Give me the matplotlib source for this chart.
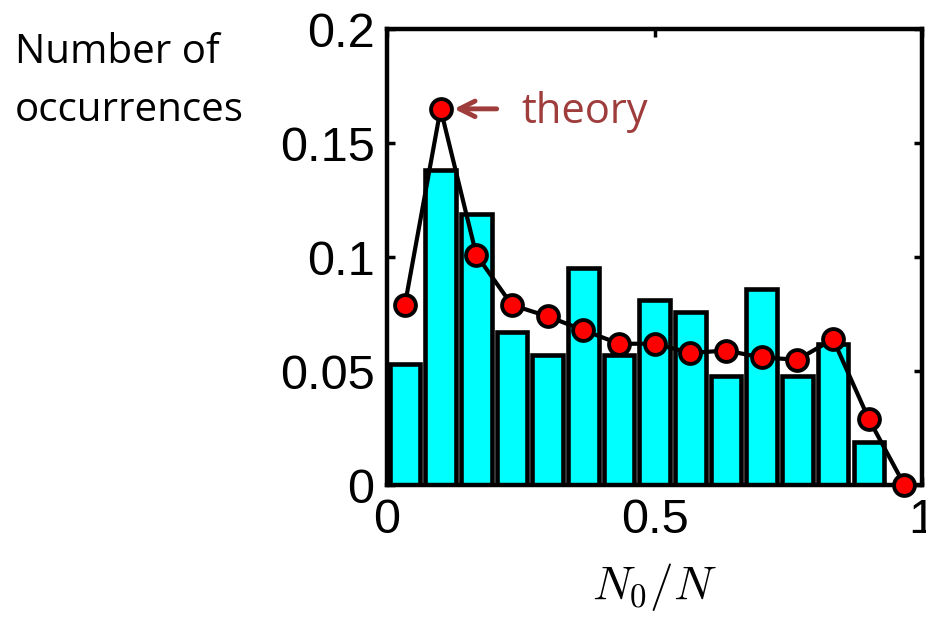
import numpy as np
import matplotlib.pyplot as plt

plt.rcParams['mathtext.fontset'] = 'cm'

# bin centres (15 bins of width 1/15)
centres = [0.0333, 0.1, 0.1667, 0.2333, 0.3, 0.3667, 0.4333, 0.5,
           0.5667, 0.6333, 0.7, 0.7667, 0.8333, 0.9, 0.9667]
# measured histogram
counts = [0.053, 0.138, 0.119, 0.067, 0.057, 0.095, 0.057, 0.081,
          0.076, 0.048, 0.086, 0.048, 0.062, 0.019, 0.0]
# theory curve
theory = [0.079, 0.165, 0.101, 0.079, 0.074, 0.068, 0.062, 0.062,
          0.058, 0.059, 0.056, 0.055, 0.064, 0.029, 0.0]

fig = plt.figure(figsize=(9.26, 6.18), dpi=100)
ax = fig.add_axes([0.418, 0.215, 0.578, 0.738])

ax.bar(centres, counts, width=0.057, color='#00ffff', edgecolor='black',
       linewidth=3.3, zorder=2)
ax.plot(centres, theory, '-o', color='black', lw=3, marker='o',
        markersize=15, markerfacecolor='red', markeredgecolor='black',
        markeredgewidth=2.8, zorder=3, clip_on=False)

ax.set_xlim(0, 1)
ax.set_ylim(0, 0.2)
ax.set_xticks([0, 0.5, 1])
ax.set_xticklabels(['0', '0.5', '1'])
ax.set_yticks([0, 0.05, 0.1, 0.15, 0.2])
ax.set_yticklabels(['0', '0.05', '0.1', '0.15', '0.2'])
ax.tick_params(direction='in', length=6, width=2.5, top=True, right=True,
               labelsize=35, pad=9)
for lab in ax.get_xticklabels() + ax.get_yticklabels():
    lab.set_family('Liberation Sans')
for s in ax.spines.values():
    s.set_linewidth(3.2)

ax.set_xlabel('$N_0/N$', fontsize=34, labelpad=13)

fig.text(0.016, 0.948, 'Number of\noccurrences', fontsize=29,
         family='Open Sans', va='top', ha='left', linespacing=1.6)

brown = '#9e3d3b'
ax.annotate('', xy=(0.12, 0.165), xytext=(0.21, 0.165),
            arrowprops=dict(arrowstyle='->', color=brown, lw=3.5,
                            mutation_scale=28))
ax.text(0.25, 0.1635, 'theory', color=brown, fontsize=30, family='Open Sans',
        va='center', ha='left')

plt.savefig('out.png', dpi=100)
